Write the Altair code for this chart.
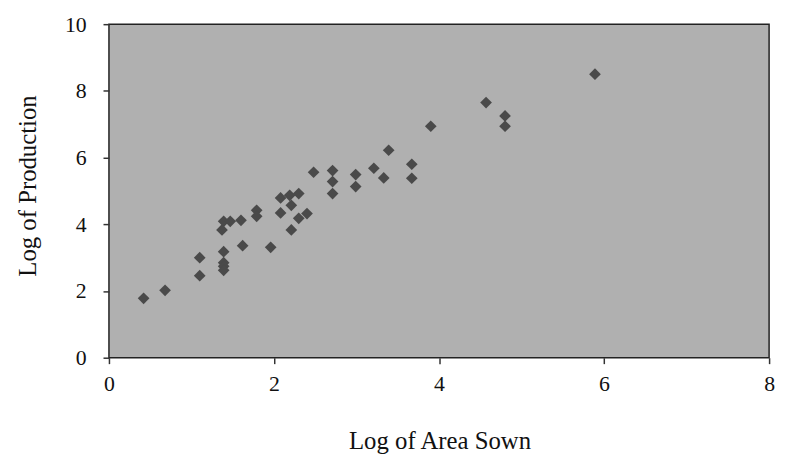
import altair as alt
import pandas as pd

log_area = [0.42, 0.68, 1.10, 1.10, 1.39, 1.37, 1.47, 1.60, 1.39, 1.39, 1.39, 1.39,
            1.62, 1.79, 1.79, 1.96, 2.08, 2.08, 2.21, 2.21, 2.30, 2.19, 2.30, 2.40,
            2.48, 2.71, 2.71, 2.71, 2.99, 2.99, 3.21, 3.33, 3.39, 3.67, 3.67, 3.90,
            4.57, 4.80, 4.80, 5.89]
log_prod = [1.78, 2.02, 3.00, 2.46, 4.09, 3.83, 4.09, 4.12, 3.18, 2.85, 2.74, 2.62,
            3.36, 4.42, 4.24, 3.31, 4.79, 4.34, 4.57, 3.83, 4.92, 4.87, 4.18, 4.32,
            5.56, 5.61, 5.28, 4.92, 5.49, 5.13, 5.68, 5.39, 6.22, 5.80, 5.38, 6.94,
            7.65, 7.25, 6.94, 8.50]

df = pd.DataFrame({"area": log_area, "prod": log_prod})

font = "Liberation Serif"

chart = alt.Chart(df).mark_point(
    shape="diamond", filled=True, size=140, color="#4a4a4a", opacity=1
).encode(
    x=alt.X("area:Q", scale=alt.Scale(domain=[0, 8], nice=False),
            axis=alt.Axis(title="Log of Area Sown", values=[0, 2, 4, 6, 8], grid=False,
                          tickSize=6, tickWidth=1.5, labelPadding=10, labelFlush=False,
                          titleX=334, titleY=84,
                          titleBaseline="middle", domain=False)),
    y=alt.Y("prod:Q", scale=alt.Scale(domain=[0, 10], nice=False),
            axis=alt.Axis(title="Log of Production", values=[0, 2, 4, 6, 8, 10], grid=False,
                          tickSize=6, tickWidth=1.5, labelPadding=17, labelFlush=False,
                          titleX=-82, titleY=163,
                          titleBaseline="middle", domain=False)),
).properties(
    width=667, height=337,
    autosize=alt.AutoSizeParams(type="none"),
    padding={"left": 102, "top": 14, "right": 9, "bottom": 100},
    background="white",
).configure_view(
    fill="#b0b0b0", stroke="#222222", strokeWidth=1.5
).configure_axis(
    labelFont=font, titleFont=font, labelFontSize=22, titleFontSize=25,
    labelColor="#111111", titleColor="#111111", tickColor="#333333",
    titleFontWeight="normal"
)

chart.save("out.html", embed_options={"renderer": "svg", "actions": False})
